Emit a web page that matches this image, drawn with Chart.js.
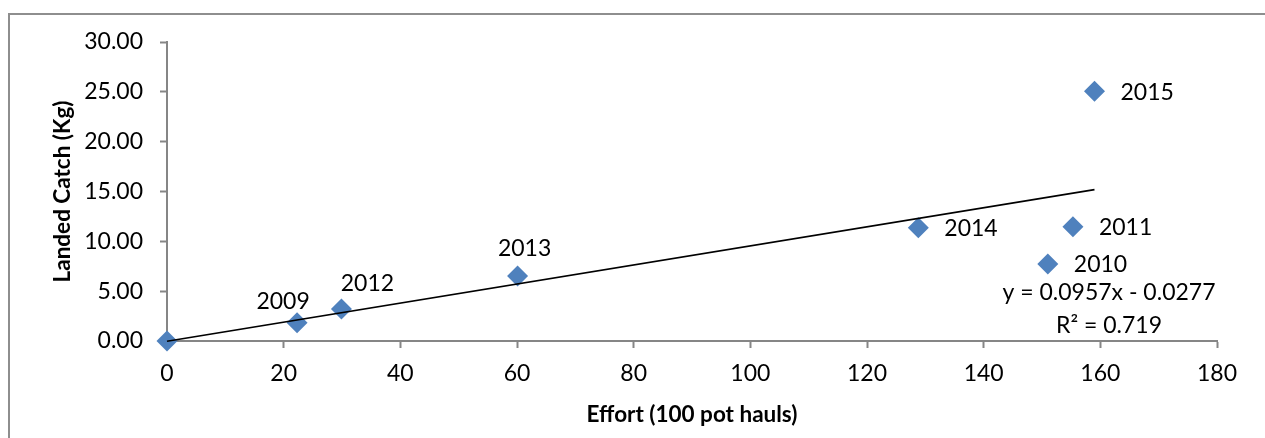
<!DOCTYPE html>
<html>
<head>
<meta charset="utf-8">
<title>Landed catch vs effort</title>
<script src="https://cdn.jsdelivr.net/npm/chart.js@4/dist/chart.umd.min.js"></script>
<style>
  body { margin: 0; background: #fff; }
  #wrap { position: relative; width: 1265px; height: 438px; overflow: hidden; }
  #frame { position: absolute; left: 8px; top: 13px; width: 1400px; height: 600px; border: 2px solid #8e8e8e; }
  #chart { position: absolute; left: 0; top: 0; }
</style>
</head>
<body>
<div id="wrap">
  <div id="frame"></div>
  <canvas id="chart" width="1265" height="438"></canvas>
</div>
<script>
// catch and effort per season
const years = ['', '2009', '2010', '2011', '2012', '2013', '2014', '2015'];
const effort = [0, 22.3, 151.0, 155.3, 29.9, 60.1, 128.8, 159.0];
const landedCatch = [0, 1.84, 7.72, 11.47, 3.21, 6.52, 11.36, 25.07];

// linear trend (Excel)
const slope = 0.0957;
const intercept = -0.0277;
const rSquared = 0.719;

// where each year label sits relative to its point
const labelSide = ['none', 'aboveLeft', 'right', 'right', 'aboveRight', 'above', 'right', 'right'];

const axisGrey = '#868686';
const fontFamily = 'Lato, "Open Sans", sans-serif';

const points = effort.map((x, i) => ({ x: x, y: landedCatch[i] }));
const xMax = Math.max(...effort);
const trend = [
    { x: 0, y: slope * 0 + intercept },
    { x: xMax, y: slope * xMax + intercept }
];

const offsets = {
    right: [26, 1, 'left'],
    above: [7, -27, 'center'],
    aboveLeft: [-14, -21, 'center'],
    aboveRight: [26, -25, 'center']
};

// year labels next to the markers + trend equation
const annotations = {
    id: 'annotations',
    afterDatasetsDraw(chart) {
        const ctx = chart.ctx;
        const meta = chart.getDatasetMeta(1);
        ctx.save();
        ctx.fillStyle = '#000';
        ctx.font = '23px ' + fontFamily;
        ctx.textBaseline = 'middle';
        meta.data.forEach((el, i) => {
            const o = offsets[labelSide[i]];
            if (!o) return;
            ctx.textAlign = o[2];
            ctx.fillText(years[i], el.x + o[0], el.y + o[1]);
        });

        const area = chart.chartArea;
        ctx.textAlign = 'center';
        const sign = intercept < 0 ? ' - ' : ' + ';
        ctx.fillText('y = ' + slope.toFixed(4) + 'x' + sign + Math.abs(intercept).toFixed(4), area.right - 108, area.bottom - 48);
        ctx.fillText('R\u00B2 = ' + rSquared.toFixed(3), area.right - 108, area.bottom - 15);
        ctx.restore();
    }
};

new Chart(document.getElementById('chart'), {
    type: 'scatter',
    data: {
        datasets: [
            {
                type: 'line',
                label: 'Linear',
                data: trend,
                borderColor: '#000',
                borderWidth: 1.6,
                pointRadius: 0,
                fill: false,
                clip: false
            },
            {
                label: 'Landed catch',
                data: points,
                pointStyle: 'rectRot',
                pointRadius: 10.5,
                backgroundColor: '#4F81BD',
                borderColor: '#4F81BD',
                borderWidth: 0,
                clip: false
            }
        ]
    },
    options: {
        responsive: false,
        animation: false,
        layout: { padding: { left: 49, top: 42, right: 48, bottom: 10 } },
        plugins: {
            legend: { display: false },
            tooltip: { enabled: false }
        },
        scales: {
            x: {
                type: 'linear',
                min: 0,
                max: 180,
                afterFit: function (scale) { scale.height = 87; },
                border: { color: axisGrey, width: 2 },
                grid: { drawOnChartArea: false, color: axisGrey, tickLength: 7, tickWidth: 2 },
                ticks: {
                    stepSize: 20,
                    padding: 12,
                    color: '#000',
                    font: { family: fontFamily, size: 23 }
                },
                title: {
                    display: true,
                    text: 'Effort (100 pot hauls)',
                    color: '#000',
                    padding: 0,
                    font: { family: fontFamily, size: 22.5, weight: 'bold' }
                }
            },
            y: {
                min: 0,
                max: 30,
                afterFit: function (scale) { scale.width = 118; },
                border: { color: axisGrey, width: 2 },
                grid: { drawOnChartArea: false, color: axisGrey, tickLength: 7, tickWidth: 2 },
                ticks: {
                    stepSize: 5,
                    padding: 17,
                    color: '#000',
                    font: { family: fontFamily, size: 23 },
                    callback: v => v.toFixed(2)
                },
                title: {
                    display: true,
                    text: 'Landed Catch (Kg)',
                    color: '#000',
                    padding: 0,
                    font: { family: fontFamily, size: 22.5, weight: 'bold' }
                }
            }
        }
    },
    plugins: [annotations]
});
</script>
</body>
</html>
